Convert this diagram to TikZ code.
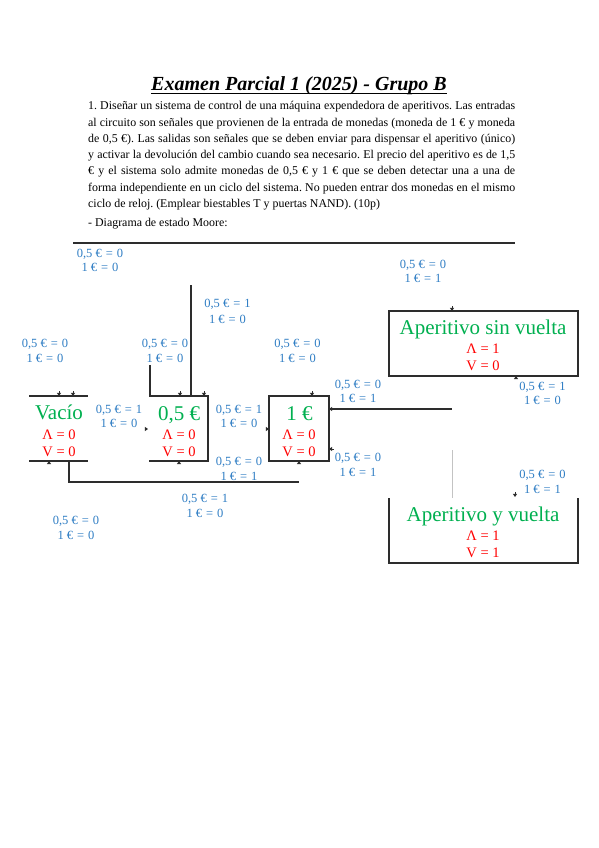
\documentclass[tikz,border=0pt]{standalone}
\usepackage{fontspec}
\setmainfont{Liberation Serif}
\definecolor{lblue}{RGB}{46,125,196}
\definecolor{sgreen}{RGB}{0,176,80}
\definecolor{sred}{RGB}{255,0,0}
\definecolor{linec}{RGB}{45,45,45}
\definecolor{lgray}{RGB}{195,195,195}
\newcommand\EqLab[2]{#1\hspace{0.32em}=\hspace{0.32em}#2}
\newcommand\StLab[6]{%
  \node[lab] (#1a) at (#2,#3+4) {#5};
  \node[lab] (#1b) at (#2,#4+4) {#6};}
\begin{document}
\frenchspacing
\begin{tikzpicture}[x=1pt,y=-1pt,
  wire/.style={draw=linec,line width=1.1pt},
  lab/.style={text=lblue,font=\fontsize{12.5}{14}\selectfont,inner sep=0,anchor=base},
  stname/.style={text=sgreen,font=\fontsize{21}{24}\selectfont,inner sep=0,anchor=base},
  outp/.style={text=sred,font=\fontsize{14.5}{16}\selectfont,inner sep=0,anchor=base},
  partext/.style={font=\fontsize{11.9}{13}\selectfont,inner sep=0,anchor=base west},
  tipdown/.pic={\fill[linec] (-2.2,-3.2) -- (2.2,-3.2) -- (0,0) -- cycle;
                \draw[linec,line width=0.7pt] (0,-3) -- (0,-5);},
  tipup/.pic={\fill[linec] (-2.2,3.2) -- (2.2,3.2) -- (0,0) -- cycle;},
  tipright/.pic={\fill[linec] (-3.2,-2.2) -- (-3.2,2.2) -- (0,0) -- cycle;},
  tipleft/.pic={\fill[linec] (3.2,-2.2) -- (3.2,2.2) -- (0,0) -- cycle;
                \draw[linec,line width=0.7pt] (3,0) -- (5,0);},
]
\fill[white] (0,0) rectangle (599,848);
\useasboundingbox (0,0) rectangle (599,848);

% title
\node[inner sep=0,anchor=base,font=\fontsize{20}{24}\selectfont\bfseries\itshape] (title) at (299,91) {Examen Parcial 1 (2025) - Grupo B};
\draw[line width=1pt] ([yshift=-2.6pt]title.base west) -- ([yshift=-2.6pt]title.base east);

% statement
\node[partext] (p1) at (88,110) {\makebox[427pt][s]{1. Diseñar un sistema de control de una máquina expendedora de aperitivos. Las entradas}};
\node[partext] (p2) at (88,126.2) {\makebox[427pt][s]{al circuito son señales que provienen de la entrada de monedas (moneda de 1 € y moneda}};
\node[partext] (p3) at (88,142.4) {\makebox[427pt][s]{de 0,5 €). Las salidas son señales que se deben enviar para dispensar el aperitivo (único)}};
\node[partext] (p4) at (88,158.6) {\makebox[427pt][s]{y activar la devolución del cambio cuando sea necesario. El precio del aperitivo es de 1,5}};
\node[partext] (p5) at (88,174.8) {\makebox[427pt][s]{€ y el sistema solo admite monedas de 0,5 € y 1 € que se deben detectar una a una de}};
\node[partext] (p6) at (88,191) {\makebox[427pt][s]{forma independiente en un ciclo del sistema. No pueden entrar dos monedas en el mismo}};
\node[partext] (p7) at (88,207.2) {ciclo de reloj. (Emplear biestables T y puertas NAND). (10p)};
\node[partext] (p8) at (88,226.5) {- Diagrama de estado Moore:};

% connector fragments
\coordinate (topL) at (73,243);  \coordinate (topR) at (515,243);
\draw[wire] (topL) -- (topR);
\coordinate (vA1) at (191,285);  \coordinate (vA2) at (191,396);
\draw[wire] (vA1) -- (vA2);
\coordinate (vB1) at (150,365);  \coordinate (vB2) at (150,396);
\draw[wire] (vB1) -- (vB2);
\coordinate (bot1) at (69,461); \coordinate (bot2) at (69,482); \coordinate (bot3) at (299,482);
\draw[wire] (bot1) -- (bot2) -- (bot3);
\coordinate (hr1) at (331,409); \coordinate (hr2) at (452,409);
\draw[wire] (hr1) -- (hr2);
\coordinate (gv1) at (452,450); \coordinate (gv2) at (452,498);
\draw[draw=lgray,line width=0.9pt] (gv1) -- (gv2);

% state boxes
\draw[wire] (29,396) -- (88,396);
\draw[wire] (29,461) -- (88,461);
\draw[wire] (149,396) -- (208,396) -- (208,461) -- (149,461);
\draw[wire] (269,396) rectangle (329,461);
\draw[wire] (389,311) rectangle (578,376);
\draw[wire] (389,498) -- (389,563) -- (578,563) -- (578,498);

% state texts
\node[stname] (s0) at (59,419.5) {Vacío};
\node[outp] (s0a) at (59,439) {Λ = 0};
\node[outp] (s0v) at (59,456) {V = 0};
\node[stname] (s1) at (179,420) {0,5 €};
\node[outp] (s1a) at (179,439) {Λ = 0};
\node[outp] (s1v) at (179,456) {V = 0};
\node[stname] (s2) at (299.5,420) {1 €};
\node[outp] (s2a) at (299,439) {Λ = 0};
\node[outp] (s2v) at (299,456) {V = 0};
\node[stname] (s3) at (483,334) {Aperitivo sin vuelta};
\node[outp] (s3a) at (483,353) {Λ = 1};
\node[outp] (s3v) at (483,370) {V = 0};
\node[stname] (s4) at (483,521.5) {Aperitivo y vuelta};
\node[outp] (s4a) at (483,540.5) {Λ = 1};
\node[outp] (s4v) at (483,557) {V = 1};

% arrow tips
\pic at (59,396) {tipdown};
\pic at (73,396) {tipdown};
\pic at (49,461) {tipup};
\pic at (180,396) {tipdown};
\pic at (204,396) {tipdown};
\pic at (148,429) {tipright};
\pic at (179,461) {tipup};
\pic at (312,396) {tipdown};
\pic at (269,429) {tipright};
\pic at (329,409) {tipleft};
\pic at (329,449) {tipleft};
\pic at (299,461) {tipup};
\pic at (452,311) {tipdown};
\pic at (516,376) {tipup};
\pic at (515,497) {tipdown};

% transition labels
\StLab{l1}{100}{253}{267}{\EqLab{0,5 €}{0}}{\EqLab{1 €}{0}}
\StLab{l2}{227.5}{303}{319}{\EqLab{0,5 €}{1}}{\EqLab{1 €}{0}}
\StLab{l3}{45}{343}{358}{\EqLab{0,5 €}{0}}{\EqLab{1 €}{0}}
\StLab{l4}{165}{343}{358}{\EqLab{0,5 €}{0}}{\EqLab{1 €}{0}}
\StLab{l5}{297.5}{343}{358}{\EqLab{0,5 €}{0}}{\EqLab{1 €}{0}}
\StLab{l6}{423}{264}{278}{\EqLab{0,5 €}{0}}{\EqLab{1 €}{1}}
\StLab{l7}{358}{384}{398}{\EqLab{0,5 €}{0}}{\EqLab{1 €}{1}}
\StLab{l8}{542.5}{386}{400}{\EqLab{0,5 €}{1}}{\EqLab{1 €}{0}}
\StLab{l9}{119}{409}{423}{\EqLab{0,5 €}{1}}{\EqLab{1 €}{0}}
\StLab{l10}{239}{409}{423}{\EqLab{0,5 €}{1}}{\EqLab{1 €}{0}}
\StLab{l11}{239}{461}{476}{\EqLab{0,5 €}{0}}{\EqLab{1 €}{1}}
\StLab{l12}{358}{457}{472}{\EqLab{0,5 €}{0}}{\EqLab{1 €}{1}}
\StLab{l13}{542.5}{474}{489}{\EqLab{0,5 €}{0}}{\EqLab{1 €}{1}}
\StLab{l14}{205}{498}{513}{\EqLab{0,5 €}{1}}{\EqLab{1 €}{0}}
\StLab{l15}{76}{520}{535}{\EqLab{0,5 €}{0}}{\EqLab{1 €}{0}}
\end{tikzpicture}
\end{document}
